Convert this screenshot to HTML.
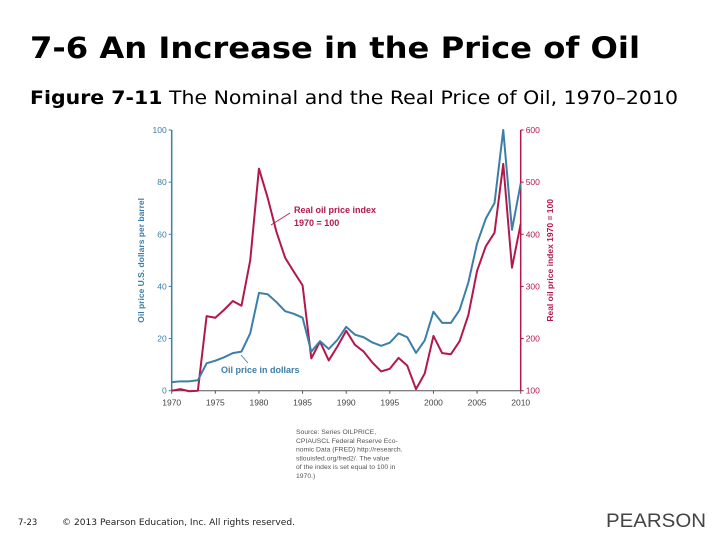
<!DOCTYPE html>
<html><head><meta charset="utf-8"><style>
body{margin:0;background:#fff;}
svg{display:block;font-family:"Liberation Sans",sans-serif;}
</style></head><body>
<svg width="720" height="540" viewBox="0 0 720 540">
<text x="30" y="58" font-family="DejaVu Sans, sans-serif" font-weight="bold" font-size="29" textLength="610" lengthAdjust="spacingAndGlyphs">7-6 An Increase in the Price of Oil</text>
<text x="30" y="104" font-family="DejaVu Sans, sans-serif" font-size="19" textLength="648" lengthAdjust="spacingAndGlyphs"><tspan font-weight="bold">Figure 7-11</tspan>  The Nominal and the Real Price of Oil, 1970–2010</text>
<g id="chart"></g>
<text x="18" y="525" font-size="8.5" font-family="DejaVu Sans, sans-serif" fill="#222">7-23</text>
<text x="62" y="525" font-size="8.5" font-family="DejaVu Sans, sans-serif" fill="#222" textLength="233" lengthAdjust="spacingAndGlyphs">© 2013 Pearson Education, Inc. All rights reserved.</text>
<text x="606" y="527" font-size="19" fill="#444" font-family="Liberation Sans, sans-serif" textLength="100" lengthAdjust="spacingAndGlyphs">PEARSON</text>
</svg>
<script>
const years=[1970,1971,1972,1973,1974,1975,1976,1977,1978,1979,1980,1981,1982,1983,1984,1985,1986,1987,1988,1989,1990,1991,1992,1993,1994,1995,1996,1997,1998,1999,2000,2001,2002,2003,2004,2005,2006,2007,2008,2009,2010];
const nominal=[3.3,3.6,3.6,4,10.5,11.5,12.8,14.4,15,22,37.5,37,34,30.5,29.5,28,15,19,16,19.5,24.5,21.5,20.5,18.5,17.2,18.4,22,20.5,14.5,19.3,30.3,26,26,31,41.5,56.5,66,72,100,61.7,79.5];
const realIndex=[100,103,99,100,243,240,255,272,263,350,526,470,405,355,328,302,162,194,158,185,215,188,175,154,137,142,163,148,103,133,205,172,170,195,245,330,377,403,535,336,420];
const xTicks=[1970,1975,1980,1985,1990,1995,2000,2005,2010];
const yLeftTicks=[0,20,40,60,80,100];
const yRightTicks=[100,200,300,400,500,600];
const NS="http://www.w3.org/2000/svg";
const g=document.getElementById('chart');
const X0=171.7,X1=520.7,Y0=390.7,Y1=130;
const xs=y=>X0+(y-1970)/40*(X1-X0);
const yl=v=>Y0-v/100*(Y0-Y1);
const yr=v=>Y0-(v-100)/500*(Y0-Y1);
const BLUE="#3b7fa8",RED="#b3184c";
function el(t,a,p){const e=document.createElementNS(NS,t);for(const k in a)e.setAttribute(k,a[k]);(p||g).appendChild(e);return e;}
let e=el('line',{x1:X0,y1:Y1,x2:X0,y2:Y0,stroke:BLUE,'stroke-width':1.5});


e=el('line',{x1:X1,y1:Y1,x2:X1,y2:Y0,stroke:RED,'stroke-width':1.5});


e=el('line',{x1:X0,y1:Y0,x2:X1,y2:Y0,stroke:'#555','stroke-width':1});


xTicks.forEach(t=>{
 el('line',{x1:xs(t),y1:Y0,x2:xs(t),y2:Y0+3,stroke:'#555'});
 e=el('text',{x:xs(t),y:Y0+15,'font-size':8.5,'text-anchor':'middle',fill:'#444'});e.textContent=t;
 
 
});
yLeftTicks.forEach(t=>{
 el('line',{x1:X0-3,y1:yl(t),x2:X0,y2:yl(t),stroke:BLUE});
 e=el('text',{x:X0-5,y:yl(t)+3,'font-size':8.5,'text-anchor':'end',fill:BLUE});e.textContent=t;
 
 
});
yRightTicks.forEach(t=>{
 el('line',{x1:X1,y1:yr(t),x2:X1+3,y2:yr(t),stroke:RED});
 e=el('text',{x:X1+5,y:yr(t)+3,'font-size':8.5,fill:RED});e.textContent=t;
 
 
});
e=el('text',{x:0,y:0,'font-size':8.5,'font-weight':'bold',fill:BLUE,'text-anchor':'middle',transform:`translate(144,${(Y0+Y1)/2}) rotate(-90)`});
e.textContent='Oil price U.S. dollars per barrel';


e=el('text',{x:0,y:0,'font-size':8.5,'font-weight':'bold',fill:RED,'text-anchor':'middle',transform:`translate(553,${(Y0+Y1)/2}) rotate(-90)`});
e.textContent='Real oil price index 1970 = 100';


e=el('polyline',{points:years.map((y,i)=>xs(y)+','+yr(realIndex[i])).join(' '),fill:'none',stroke:RED,'stroke-width':2,'stroke-linejoin':'round'});


e=el('polyline',{points:years.map((y,i)=>xs(y)+','+yl(nominal[i])).join(' '),fill:'none',stroke:BLUE,'stroke-width':2,'stroke-linejoin':'round'});


el('line',{x1:290,y1:213,x2:271,y2:225,stroke:RED,'stroke-width':0.8});
e=el('text',{x:294,y:213,'font-size':9,'font-weight':'bold',fill:RED});e.textContent='Real oil price index';


e=el('text',{x:294,y:226,'font-size':9,'font-weight':'bold',fill:RED});e.textContent='1970 = 100';


el('line',{x1:241,y1:355,x2:248,y2:363,stroke:BLUE,'stroke-width':0.8});
e=el('text',{x:221,y:373,'font-size':9,'font-weight':'bold',fill:BLUE});e.textContent='Oil price in dollars';


['Source: Series OILPRICE,','CPIAUSCL Federal Reserve Eco-','nomic Data (FRED) http://research.','stlouisfed.org/fred2/. The value','of the index is set equal to 100 in','1970.)'].forEach((s,i)=>{
 e=el('text',{x:296,y:434+i*8.8,'font-size':6.8,fill:'#555'});e.textContent=s;
 
 
});
</script>
</body></html>
